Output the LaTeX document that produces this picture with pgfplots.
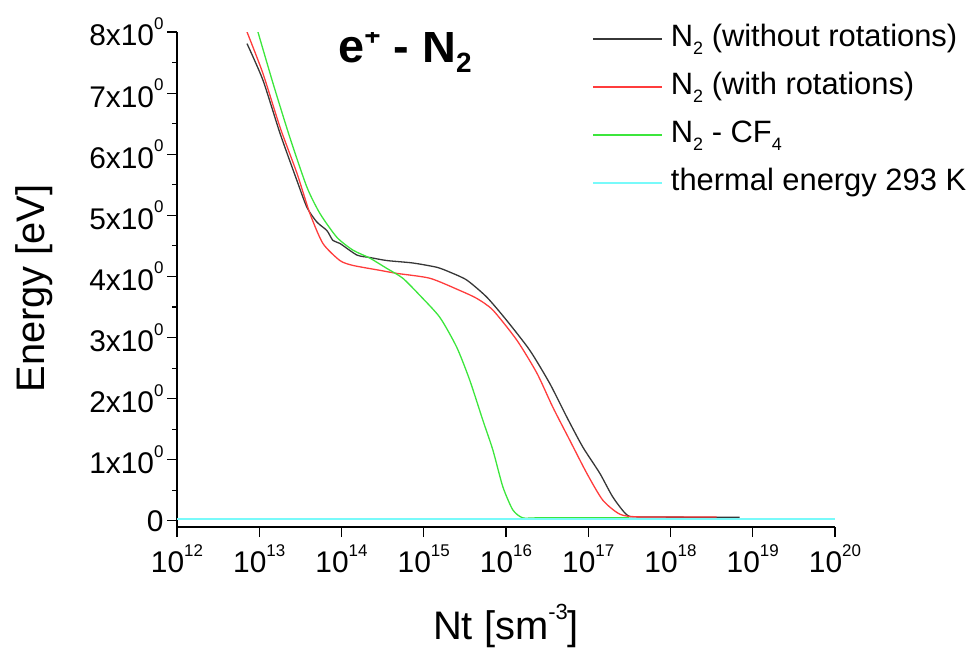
\documentclass[border=0pt]{standalone}
\usepackage{fontspec}
\setmainfont{Liberation Sans}
\usepackage{pgfplots}
\pgfplotsset{compat=1.18}

\definecolor{cBlack}{RGB}{55,55,55}
\definecolor{cRed}{RGB}{255,60,60}
\definecolor{cGreen}{RGB}{60,230,60}
\definecolor{cCyan}{RGB}{120,250,250}

% raised / lowered indices with explicit sizes
\newcommand{\tsup}[1]{\raisebox{0.55em}{\fontsize{17}{17}\selectfont #1}}
\newcommand{\lsup}[1]{\raisebox{0.5em}{\fontsize{22}{22}\selectfont #1}}
\newcommand{\gsub}[1]{\raisebox{-0.27em}{\fontsize{18}{18}\selectfont #1}}

\pgfplotsset{
  legline/.style={legend image code/.code={%
    \path[draw=#1, line width=1.8bp] (0bp,0bp) -- (69bp,0bp);}},
}

\begin{document}
\begin{tikzpicture}
\path[use as bounding box] (-177bp,-121bp) rectangle (796bp,527bp);
\begin{axis}[
  scale only axis,
  width=658bp, height=495bp,
  xmode=log, log basis x=10,
  xmin=1e12, xmax=1e20,
  ymin=-0.1, ymax=8,
  axis lines*=left,
  axis line style={line width=1.4bp, black},
  tick style={line width=1.2bp, black},
  tick align=outside,
  major tick length=10bp,
  minor tick length=5bp,
  xtick={1e12,1e13,1e14,1e15,1e16,1e17,1e18,1e19,1e20},
  xticklabels={10\tsup{12},10\tsup{13},10\tsup{14},10\tsup{15},10\tsup{16},10\tsup{17},10\tsup{18},10\tsup{19},10\tsup{20}},
  ytick={0,1,2,3,4,5,6,7,8},
  yticklabels={0,1x10\tsup{0},2x10\tsup{0},3x10\tsup{0},4x10\tsup{0},5x10\tsup{0},6x10\tsup{0},7x10\tsup{0},8x10\tsup{0}},
  minor y tick num=1,
  tick label style={font=\fontsize{30}{34}\selectfont},
  xticklabel style={yshift=-4bp},
  xlabel={Nt [sm\lsup{-3}]},
  ylabel={Energy [eV]},
  label style={font=\fontsize{40}{44}\selectfont},
  xlabel shift=24bp,
  ylabel shift=30bp,
  ylabel style={at={(ticklabel cs:0.482)}},
  legend cell align=left,
  legend style={draw=none, fill=none, at={(0.626,1.028)}, anchor=north west,
    font=\fontsize{31}{34}\selectfont, row sep=10bp,
    nodes={inner sep=2bp, text height=24bp, text depth=10bp},
    /tikz/every odd column/.append style={column sep=6bp}},
]
% without rotational excitation
\addplot[color=cBlack, line width=1.3bp, smooth, tension=0.4, legline=cBlack] coordinates {
 (7.10e12,7.81) (1.11e13,7.21) (1.79e13,6.34) (2.87e13,5.57) (3.80e13,5.13)
 (5.02e13,4.89) (6.65e13,4.75) (7.85e13,4.59) (9.57e13,4.54) (1.54e14,4.35)
 (2.21e14,4.31) (3.57e14,4.26) (7.38e14,4.22) (1.44e15,4.15) (2.08e15,4.07)
 (3.34e15,3.94) (5.85e15,3.66) (1.02e16,3.28) (1.95e16,2.79) (3.40e16,2.25)
 (5.48e16,1.70) (8.57e16,1.21) (1.38e17,0.78) (1.99e17,0.39) (2.94e17,0.10)
 (4.23e17,0.065) (6.92e18,0.06)
};
\addlegendentry{N\gsub{2} (without rotations)}
% with rotational excitation
\addplot[color=cRed, line width=1.3bp, smooth, tension=0.4, legline=cRed] coordinates {
 (7.10e12,8.00) (1.11e13,7.32) (1.79e13,6.44) (2.87e13,5.69) (4.13e13,5.03)
 (5.94e13,4.54) (9.57e13,4.26) (1.38e14,4.18) (2.93e14,4.10) (4.71e14,4.05)
 (1.19e15,3.97) (2.75e15,3.77) (4.42e15,3.64) (6.92e15,3.45) (1.35e16,2.96)
 (2.37e16,2.42) (3.71e16,1.86) (5.96e16,1.32) (9.59e16,0.78) (1.50e17,0.34)
 (2.42e17,0.11) (4.23e17,0.065) (3.63e18,0.065)
};
\addlegendentry{N\gsub{2} (with rotations)}
% N2 - CF4 mixture
\addplot[color=cGreen, line width=1.3bp, smooth, tension=0.4, legline=cGreen] coordinates {
 (9.64e12,8.00) (1.47e13,7.16) (2.36e13,6.27) (3.80e13,5.46) (5.47e13,5.03)
 (8.79e13,4.64) (1.38e14,4.43) (2.21e14,4.30) (3.57e14,4.13) (5.57e14,3.97)
 (8.97e14,3.69) (1.57e15,3.33) (2.52e15,2.84) (3.63e15,2.30) (5.22e15,1.65)
 (6.92e15,1.16) (9.14e15,0.56) (1.21e16,0.18) (1.60e16,0.05) (2.57e16,0.05)
 (3.16e17,0.05)
};
\addlegendentry{N\gsub{2} - CF\gsub{4}}
% 3/2 kT at 293 K
\addplot[color=cCyan, line width=2bp, legline=cCyan] coordinates {(1e12,0.038) (1e20,0.038)};
\addlegendentry{thermal energy 293 K}
\node[anchor=base, font=\bfseries\fontsize{47}{50}\selectfont]
  at (rel axis cs:0.3465,0.939)
  {e\begingroup\fontsize{28}{28}\selectfont\raisebox{17bp}{+}\endgroup{} - N\begingroup\fontsize{28}{28}\selectfont\raisebox{-10bp}{2}\endgroup};
\end{axis}
\end{tikzpicture}
\end{document}
